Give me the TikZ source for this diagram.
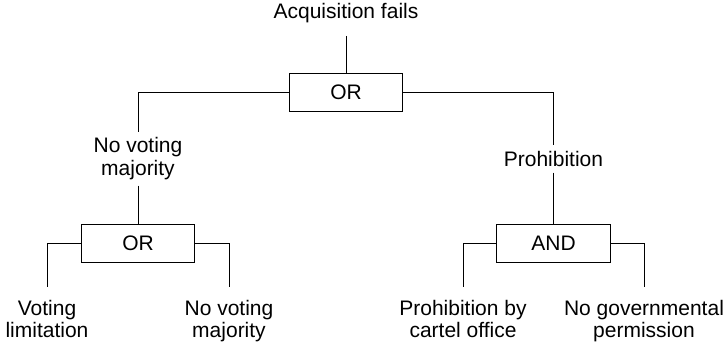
\documentclass[tikz,border=0pt]{standalone}
\usepackage{fontspec}
\setmainfont{Liberation Sans}
\usepackage{tikz}

\begin{document}
\begin{tikzpicture}[x=1pt,y=-1pt,line width=0.9pt,
  font=\fontsize{21}{22.5}\selectfont,
  gate/.style={draw,minimum width=113.5pt,minimum height=38pt,inner sep=0pt},
  event/.style={align=center,inner xsep=0pt,inner ysep=5.5pt},
  farevent/.style={event,inner ysep=12.5pt}]

\useasboundingbox (0,0) rectangle (725,344);

% top event and first gate
\node[farevent,anchor=south] (acq) at (346,36) {Acquisition fails};
\node[gate] (gor) at (346,92.2) {OR};

% second level
\node[event,anchor=north] (novote) at (138,131.7) {No voting\\majority};
\node[event,anchor=north] (prohib) at (553.5,145.3) {Prohibition};

\node[gate] (lor) at (138,243) {OR};
\node[gate] (land) at (553.5,243) {AND};

% leaves
\node[farevent,anchor=north] (votelim) at (47,287) {Voting\\limitation};
\node[farevent,anchor=north] (novote2) at (229,287) {No voting\\majority};
\node[farevent,anchor=north] (cartel) at (463,287) {Prohibition by\\cartel office};
\node[farevent,anchor=north] (nogov) at (644,287) {No governmental\\permission};

% connectors
\draw (acq) -- (gor);
\draw (gor.west) -| (novote.north);
\draw (gor.east) -| (prohib.north);
\draw (novote) -- (lor);
\draw (prohib) -- (land);
\draw (lor.west) -| (votelim.north);
\draw (lor.east) -| (novote2.north);
\draw (land.west) -| (cartel.north);
\draw (land.east) -| (nogov.north);

\end{tikzpicture}
\end{document}
